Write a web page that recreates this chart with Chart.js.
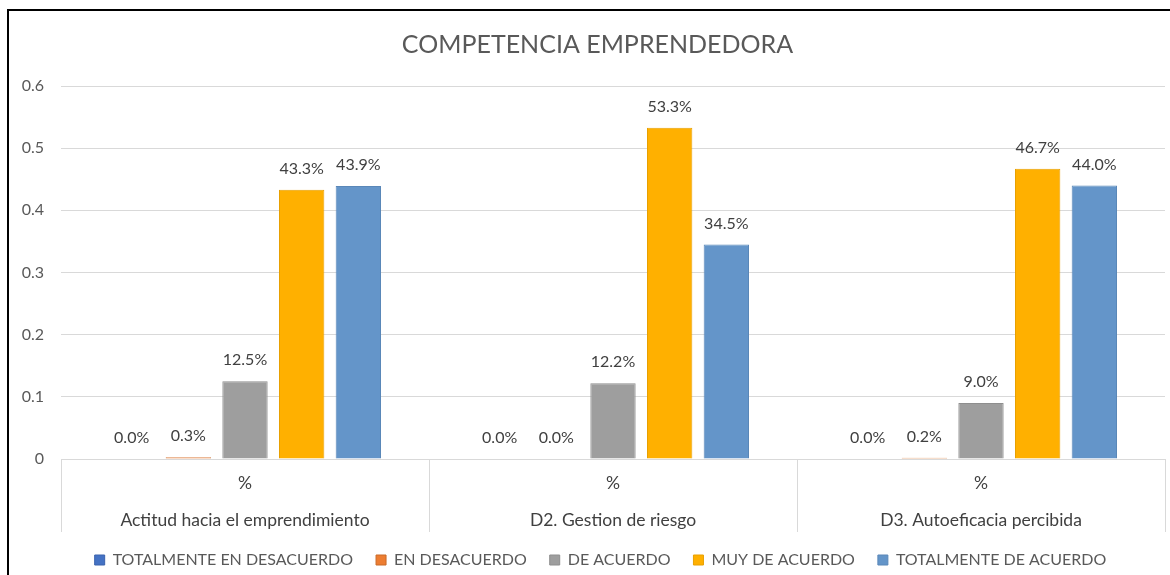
<!DOCTYPE html>
<html>
<head>
<meta charset="utf-8">
<script src="https://cdn.jsdelivr.net/npm/chart.js@4.4.1/dist/chart.umd.min.js"></script>
<style>
  html, body { margin: 0; padding: 0; background: #fff; }
  #wrap { position: relative; width: 1170px; height: 575px; overflow: hidden; }
  #frame { position: absolute; left: 7px; top: 9px; right: -10px; bottom: -10px;
           border-left: 2px solid #000; border-top: 2px solid #000; pointer-events: none; }
</style>
</head>
<body>
<div id="wrap">
  <canvas id="c" width="1170" height="575"></canvas>
  <div id="frame"></div>
</div>
<script>
const categories = [
  ['%', 'Actitud hacia el emprendimiento'],
  ['%', 'D2. Gestion de riesgo'],
  ['%', 'D3. Autoeficacia percibida']
];
const seriesNames = ['TOTALMENTE EN DESACUERDO', 'EN DESACUERDO', 'DE ACUERDO', 'MUY DE ACUERDO', 'TOTALMENTE DE ACUERDO'];
const totalmenteDesacuerdo = [0.000, 0.000, 0.000];
const enDesacuerdo = [0.003, 0.000, 0.002];
const deAcuerdo = [0.125, 0.122, 0.090];
const muyDeAcuerdo = [0.433, 0.533, 0.467];
const totalmenteDeAcuerdo = [0.439, 0.345, 0.440];
const yTicks = [0, 0.1, 0.2, 0.3, 0.4, 0.5, 0.6];

const fills = ['#4472C4', '#ED7D31', '#9E9E9E', '#FFB000', '#6495C9'];
const edges = ['#3A63AD', '#C96A28', '#8E8E8E', '#E8A000', '#5A87B8'];
const FONT = 'Lato, Calibri, Carlito, sans-serif';

const labelPlugin = {
  id: 'valueLabels',
  afterDatasetsDraw(chart) {
    const ctx = chart.ctx;
    ctx.save();
    ctx.font = '16px ' + FONT;
    ctx.fillStyle = '#404040';
    ctx.textAlign = 'center';
    ctx.textBaseline = 'middle';
    chart.data.datasets.forEach((ds, di) => {
      const meta = chart.getDatasetMeta(di);
      meta.data.forEach((el, i) => {
        const v = ds.data[i];
        ctx.fillText((v * 100).toFixed(1) + '%', el.x, el.y - 21);
      });
    });
    ctx.restore();
  }
};

const sepPlugin = {
  id: 'separators',
  afterLayout(chart) {
    if (chart.legend) { chart.legend.left += 18; chart.legend.right += 18; }
    if (chart.titleBlock) { chart.titleBlock.left += 15; chart.titleBlock.right += 15; }
  },
  afterDraw(chart) {
    const xs = chart.scales.x;
    const ctx = chart.ctx;
    ctx.save();
    ctx.strokeStyle = '#D9D9D9';
    ctx.lineWidth = 1;
    for (let i = 0; i <= categories.length; i++) {
      const x = Math.round(xs.getPixelForValue(i - 0.5)) + 0.5;
      ctx.beginPath();
      ctx.moveTo(x, xs.top);
      ctx.lineTo(x, xs.top + 73);
      ctx.stroke();
    }
    ctx.restore();
  }
};

const dataArrays = [totalmenteDesacuerdo, enDesacuerdo, deAcuerdo, muyDeAcuerdo, totalmenteDeAcuerdo];

new Chart(document.getElementById('c'), {
  type: 'bar',
  data: {
    labels: categories,
    datasets: seriesNames.map((n, i) => ({
      label: n,
      data: dataArrays[i],
      backgroundColor: fills[i],
      borderColor: edges[i],
      borderWidth: 1,
      categoryPercentage: 0.77,
      barPercentage: 0.8
    }))
  },
  options: {
    responsive: false,
    animation: false,
    layout: { padding: { left: 0, right: 5, top: 0, bottom: -3 } },
    plugins: {
      title: {
        display: true,
        text: 'COMPETENCIA EMPRENDEDORA',
        color: '#595959',
        font: { family: FONT, size: 25, weight: 'normal', lineHeight: 1.2 },
        padding: { top: 30, bottom: 26 }
      },
      legend: {
        position: 'bottom',
        labels: {
          color: '#595959',
          font: { family: FONT, size: 16 },
          boxWidth: 10,
          boxHeight: 10,
          padding: 23
        }
      },
      tooltip: { enabled: false }
    },
    scales: {
      x: {
        grid: { display: false, drawTicks: false },
        border: { display: true, color: '#D9D9D9' },
        ticks: {
          color: '#404040',
          font: { family: FONT, size: 17.5, lineHeight: 37 / 17.5 },
          padding: 5.5,
          maxRotation: 0,
          autoSkip: false
        },
        afterFit(s) { s.height = 70; }
      },
      y: {
        min: 0,
        max: 0.6,
        afterBuildTicks(s) { s.ticks = yTicks.map(v => ({ value: v })); },
        grid: { color: '#D9D9D9', drawTicks: false },
        border: { display: false },
        ticks: {
          color: '#595959',
          font: { family: FONT, size: 16 },
          padding: 17,
          callback: v => String(Number(v.toFixed(1)))
        },
        afterFit(s) { s.width = 61; }
      }
    }
  },
  plugins: [labelPlugin, sepPlugin]
});
</script>
</body>
</html>
